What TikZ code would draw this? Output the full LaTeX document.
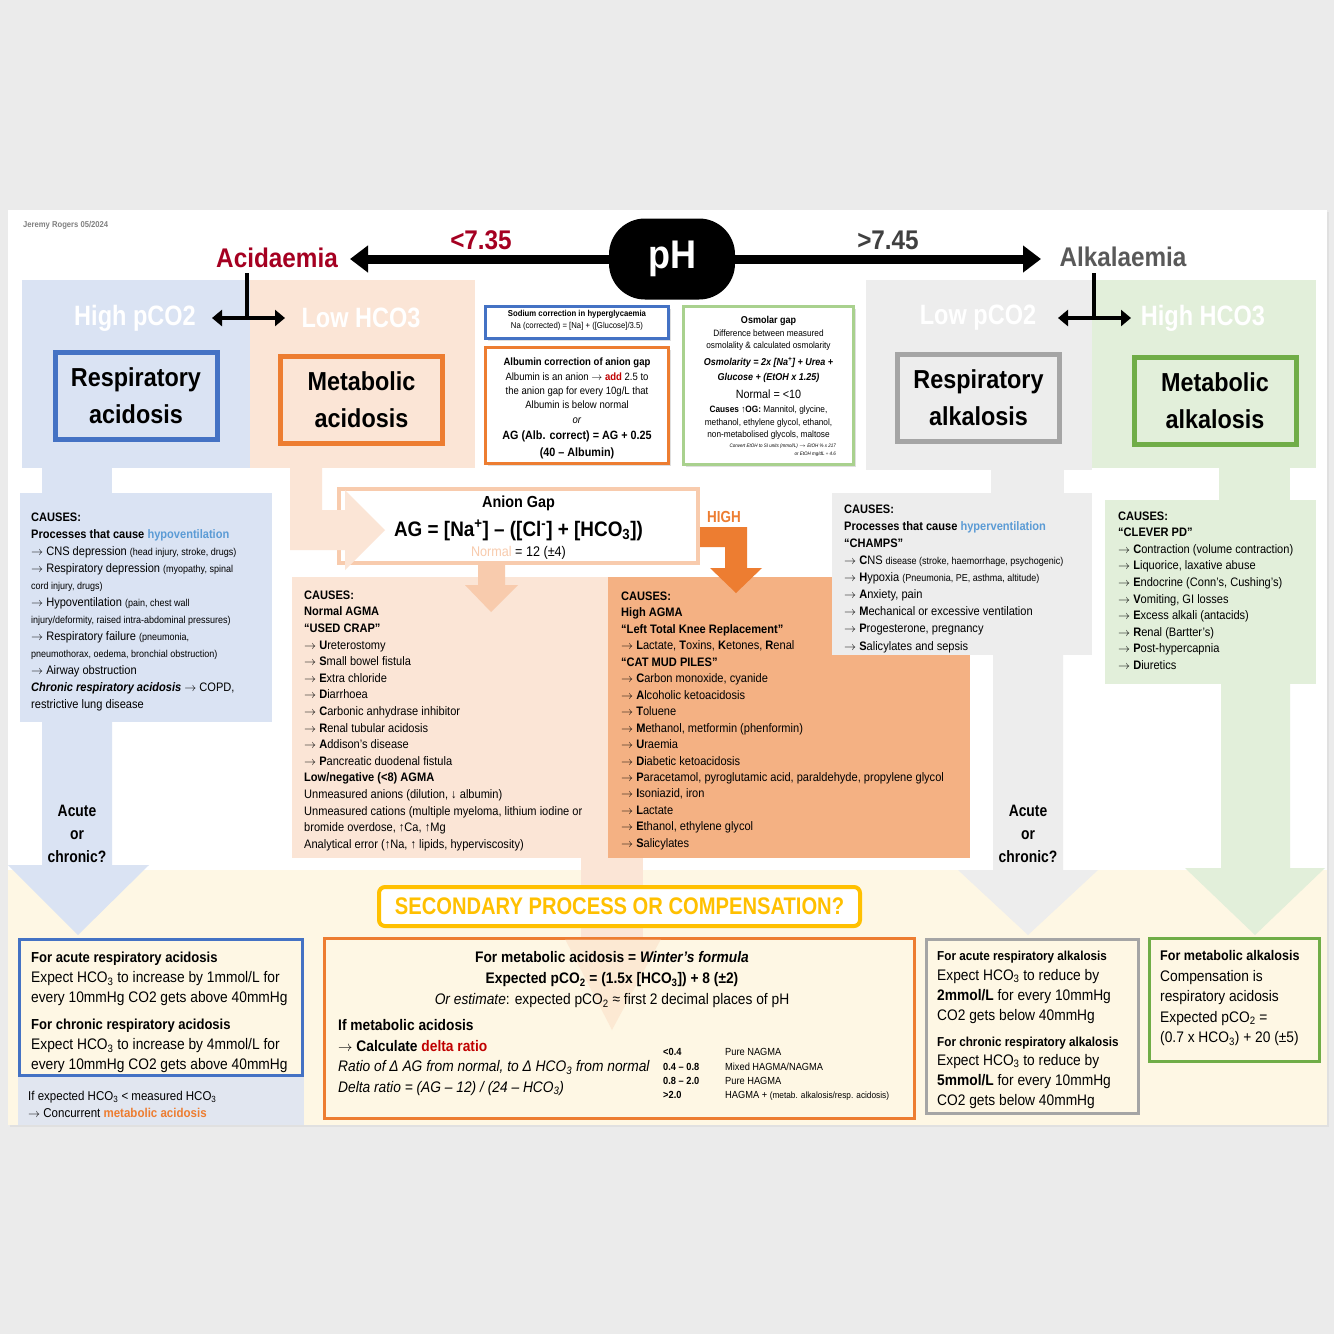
\documentclass[tikz,border=0pt]{standalone}
\usepackage{fontspec}
\setmainfont{Liberation Sans}[FakeStretch=0.9]
\newfontfamily\condfont{Liberation Sans}[FakeStretch=0.84]
\usetikzlibrary{arrows.meta, shadows}

\definecolor{bgray}{HTML}{EBEBEB}
\definecolor{acidred}{HTML}{A50021}
\definecolor{rblue}{HTML}{4472C4}
\definecolor{lblue}{HTML}{DAE3F3}
\definecolor{hypo}{HTML}{5B9BD5}
\definecolor{peach}{HTML}{FBE5D6}
\definecolor{peachdk}{HTML}{F8CBAD}
\definecolor{morange}{HTML}{ED7D31}
\definecolor{orangebox}{HTML}{F4B183}
\definecolor{lgray}{HTML}{EDEDED}
\definecolor{mgray}{HTML}{A5A5A5}
\definecolor{lgreen}{HTML}{E2EFDA}
\definecolor{mgreen}{HTML}{70AD47}
\definecolor{osmgreen}{HTML}{A9D18E}
\definecolor{cream}{HTML}{FEF7E4}
\definecolor{yell}{HTML}{FFC000}
\definecolor{alkgray}{HTML}{595959}
\definecolor{deltared}{HTML}{C00000}
\definecolor{lowblue}{HTML}{E1E6F0}

\newcommand{\sml}[1]{{\fontsize{10}{12}\selectfont #1}}
\newcommand{\rarr}{\ensuremath{\rightarrow}}

\begin{document}
\begin{tikzpicture}[
  x=1pt, y=-1pt,
  panelhead/.style={font=\condfont\bfseries\fontsize{28}{30}\selectfont, text=white, inner sep=0pt},
  typebox/.style={draw=#1, line width=5pt, minimum width=162pt, minimum height=87pt, align=center, inner sep=0pt, font=\bfseries\fontsize{26}{37}\selectfont},
  causes/.style={anchor=north west, align=left, inner sep=0pt, font=\fontsize{12.3}{16.6}\selectfont},
  infobox/.style={draw=#1, line width=3pt, fill=white, inner sep=0pt, drop shadow={opacity=0.25, shadow xshift=2pt, shadow yshift=-2pt}},
  comp/.style={draw=#1, line width=3pt, fill=cream, inner sep=0pt},
  comptext/.style={anchor=north west, align=left, inner sep=0pt, font=\fontsize{15.3}{20}\selectfont},
  phline/.style={line width=9pt, -{Triangle[length=18pt, width=26pt]}},
  forkline/.style={line width=4.5pt},
  dblarrow/.style={line width=4.5pt, {Triangle[length=10pt, width=16pt]}-{Triangle[length=10pt, width=16pt]}},
  question/.style={font=\condfont\bfseries\fontsize{16.5}{23}\selectfont, align=center, inner sep=0pt}
]

\fill[bgray] (0,0) rectangle (1334,1334);
\useasboundingbox (0,0) rectangle (1334,1334);
\fill[black!12] (10,212) rectangle (1329,1127);
\fill[white] (8,210) rectangle (1327,1125);
\fill[cream] (8,870) rectangle (1327,1125);

\node[font=\bfseries\fontsize{8.5}{10}\selectfont, text=gray, anchor=west, inner sep=0pt] (author) at (23,225) {Jeremy Rogers 05/2024};

\fill[lblue] (22,280) rectangle (250,468);
\fill[peach] (250,280) rectangle (475,468);
\fill[lgray] (866,280) rectangle (1092,470);
\fill[lgreen] (1092,280) rectangle (1316,468);

\fill[lblue] (42,468) rectangle (112,493);
\fill[lgray] (991,470) rectangle (1064,493);
\fill[lgreen] (1219,468) rectangle (1290,500);

\fill[lblue] (42,720) -- (112,720) -- (112,865) -- (149,865) -- (78,935) -- (8,865) -- (42,865) -- cycle;
\fill[lgray] (993,650) -- (1063,650) -- (1063,870) -- (1098,870) -- (1028,935) -- (958,870) -- (993,870) -- cycle;
\fill[lgreen] (1221,680) -- (1290,680) -- (1290,868) -- (1325,868) -- (1255,935) -- (1185,868) -- (1221,868) -- cycle;
\fill[peach] (581,858) rectangle (643,937);

\fill[lblue] (20,493) rectangle (272,722);
\fill[peach] (292,577) rectangle (608,858);
\fill[orangebox] (608,577) rectangle (970,858);
\fill[lgray] (832,493) rectangle (1092,655);
\fill[lgreen] (1105,500) rectangle (1316,684);

\node[draw=peachdk, line width=4pt, fill=white, minimum width=359, minimum height=74, inner sep=0pt] (agbox) at (518.5,526) {};
\fill[peach] (290,468) -- (322,468) -- (322,510) -- (345,510) -- (345,490) -- (385,530) -- (345,570) -- (345,550) -- (290,550) -- cycle;
\fill[peachdk] (478,565) -- (505,565) -- (505,585) -- (518,585) -- (491,612) -- (465,585) -- (478,585) -- cycle;
\fill[morange] (700,527) -- (747,527) -- (747,568) -- (762,568) -- (736,593) -- (710,568) -- (725,568) -- (725,547) -- (700,547) -- cycle;

\node[font=\fontsize{14}{20.5}\selectfont, align=center, inner sep=0pt] (agtext) at (518.5,528) {{\fontsize{16}{18}\selectfont\bfseries Anion Gap}\\[8pt]
{\fontsize{21}{22}\selectfont\bfseries AG = [Na\textsuperscript{+}] – ([Cl\textsuperscript{-}] + [HCO\textsubscript{3}])}\\
\textcolor{peachdk}{Normal} = 12 (±4)};
\node[font=\condfont\bfseries\fontsize{16}{18}\selectfont, text=morange, inner sep=0pt] (high) at (724,517) {HIGH};

\node[fill=black, rounded corners=36pt, minimum width=126, minimum height=81, text=white, font=\bfseries\fontsize{40}{44}\selectfont, inner sep=0pt] (ph) at (672,259) {pH};
\node[font=\bfseries\fontsize{27}{30}\selectfont, text=acidred, inner sep=0pt] (acid) at (277,258) {Acidaemia};
\node[font=\bfseries\fontsize{27}{30}\selectfont, text=alkgray, inner sep=0pt] (alk) at (1123,257) {Alkalaemia};
\node[font=\bfseries\fontsize{27}{30}\selectfont, text=acidred, inner sep=0pt] (lowph) at (481,240) {<7.35};
\node[font=\bfseries\fontsize{27}{30}\selectfont, text=black!75, inner sep=0pt] (highph) at (888,240) {>7.45};
\coordinate (acidtip) at (350,259);
\coordinate (alktip) at (1041,259);
\draw[phline] (ph.west) -- (acidtip);
\draw[phline] (ph.east) -- (alktip);

\coordinate (acidtop) at (247,273);
\coordinate (acidfork) at (247,318);
\coordinate (alktop) at (1094,273);
\coordinate (alkfork) at (1094,318);
\draw[forkline] (acidtop) -- (acidfork);
\draw[dblarrow] ([xshift=-35pt]acidfork) -- ([xshift=38pt]acidfork);
\draw[forkline] (alktop) -- (alkfork);
\draw[dblarrow] ([xshift=-36pt]alkfork) -- ([xshift=37pt]alkfork);

\node[panelhead] (hipco) at (135,318) {High pCO2};
\node[panelhead] (lohco) at (361,318) {Low HCO3};
\node[panelhead] (lopco) at (978,318) {Low pCO2};
\node[panelhead] (hihco) at (1203,318) {High HCO3};

\node[typebox=rblue, fill=lblue] (racid) at (136,396) {Respiratory\\acidosis};
\node[typebox=morange, fill=peach] (macid) at (361.5,399.5) {Metabolic\\acidosis};
\node[typebox=mgray, fill=lgray] (ralk) at (978.5,397.5) {Respiratory\\alkalosis};
\node[typebox=mgreen, fill=lgreen] (malk) at (1215,400.5) {Metabolic\\alkalosis};

\node[infobox=rblue, minimum width=183, minimum height=32] (nabox) at (577,322.5) {};
\node[font=\fontsize{8.6}{12}\selectfont, align=center, inner sep=0pt] (natext) at (577,320) {\textbf{Sodium correction in hyperglycaemia}\\Na (corrected) = [Na] + ([Glucose]/3.5)};

\node[infobox=morange, minimum width=183, minimum height=116] (albbox) at (577,405.5) {};
\node[font=\fontsize{10.6}{14.3}\selectfont, align=center, inner sep=0pt, anchor=north] (albtext) at (577,357.5) {\textbf{Albumin correction of anion gap}\\[0.5pt]
Albumin is an anion \rarr{} \textcolor{deltared}{\textbf{add}} 2.5 to\\
the anion gap for every 10g/L that\\
Albumin is below normal\\[0.5pt]
\textit{or}\\[1.5pt]
{\fontsize{12}{14}\selectfont\bfseries AG (Alb. correct) = AG + 0.25}\\[2.5pt]
{\fontsize{12}{14}\selectfont\bfseries (40 – Albumin)}};

\node[infobox=osmgreen, minimum width=170, minimum height=158] (osmbox) at (768.5,385.5) {};
\node[font=\fontsize{9.2}{12.5}\selectfont, align=center, inner sep=0pt, anchor=north] (osmtext) at (768.5,316) {{\fontsize{10}{12}\selectfont\bfseries Osmolar gap}\\[0.5pt]
Difference between measured\\[-0.5pt]
osmolality \& calculated osmolarity\\[4.5pt]
{\fontsize{10}{12}\selectfont\bfseries\itshape Osmolarity = 2x [Na\textsuperscript{+}] + Urea +}\\[2.5pt]
{\fontsize{10}{12}\selectfont\bfseries\itshape Glucose + (EtOH x 1.25)}\\[5.5pt]
{\fontsize{12}{12}\selectfont Normal = <10}\\[1.5pt]
\textbf{Causes ↑OG:} Mannitol, glycine,\\[0.5pt]
methanol, ethylene glycol, ethanol,\\[-0.5pt]
non-metabolised glycols, maltose};
\node[font=\itshape\fontsize{5}{8}\selectfont, align=right, inner sep=0pt, anchor=north east] (etoh) at (836,444) {Convert EtOH to SI units (mmol/L) \rarr{} EtOH \% x 217\\or EtOH mg/dL ÷ 4.6};

\node[causes, font=\fontsize{12.3}{17}\selectfont] (racidcauses) at (31,512.5) {\textbf{CAUSES:}\\
\textbf{Processes that cause \textcolor{hypo}{hypoventilation}}\\
\rarr{} CNS depression \sml{(head injury, stroke, drugs)}\\
\rarr{} Respiratory depression \sml{(myopathy, spinal}\\
\sml{cord injury, drugs)}\\
\rarr{} Hypoventilation \sml{(pain, chest wall}\\
\sml{injury/deformity, raised intra-abdominal pressures)}\\
\rarr{} Respiratory failure \sml{(pneumonia,}\\
\sml{pneumothorax, oedema, bronchial obstruction)}\\
\rarr{} Airway obstruction\\
\textbf{\textit{Chronic respiratory acidosis}} \rarr{} COPD,\\
restrictive lung disease};

\node[causes] (macidcauses) at (304,590.5) {\textbf{CAUSES:}\\
\textbf{Normal AGMA}\\
\textbf{“USED CRAP”}\\
\rarr{} \textbf{U}reterostomy\\
\rarr{} \textbf{S}mall bowel fistula\\
\rarr{} \textbf{E}xtra chloride\\
\rarr{} \textbf{D}iarrhoea\\
\rarr{} \textbf{C}arbonic anhydrase inhibitor\\
\rarr{} \textbf{R}enal tubular acidosis\\
\rarr{} \textbf{A}ddison’s disease\\
\rarr{} \textbf{P}ancreatic duodenal fistula\\
\textbf{Low/negative (<8) AGMA}\\
Unmeasured anions (dilution, ↓ albumin)\\
Unmeasured cations (multiple myeloma, lithium iodine or\\
bromide overdose, ↑Ca, ↑Mg\\
Analytical error (↑Na, ↑ lipids, hyperviscosity)};

\node[causes, font=\fontsize{12.3}{16.47}\selectfont] (hagmacauses) at (621,591.5) {\textbf{CAUSES:}\\
\textbf{High AGMA}\\
\textbf{“Left Total Knee Replacement”}\\
\rarr{} \textbf{L}actate, \textbf{T}oxins, \textbf{K}etones, \textbf{R}enal\\
\textbf{“CAT MUD PILES”}\\
\rarr{} \textbf{C}arbon monoxide, cyanide\\
\rarr{} \textbf{A}lcoholic ketoacidosis\\
\rarr{} \textbf{T}oluene\\
\rarr{} \textbf{M}ethanol, metformin (phenformin)\\
\rarr{} \textbf{U}raemia\\
\rarr{} \textbf{D}iabetic ketoacidosis\\
\rarr{} \textbf{P}aracetamol, pyroglutamic acid, paraldehyde, propylene glycol\\
\rarr{} \textbf{I}soniazid, iron\\
\rarr{} \textbf{L}actate\\
\rarr{} \textbf{E}thanol, ethylene glycol\\
\rarr{} \textbf{S}alicylates};

\node[causes, font=\fontsize{12.3}{17.1}\selectfont] (ralkcauses) at (844,504.5) {\textbf{CAUSES:}\\
\textbf{Processes that cause \textcolor{hypo}{hyperventilation}}\\
\textbf{“CHAMPS”}\\
\rarr{} \textbf{C}NS \sml{disease (stroke, haemorrhage, psychogenic)}\\
\rarr{} \textbf{H}ypoxia \sml{(Pneumonia, PE, asthma, altitude)}\\
\rarr{} \textbf{A}nxiety, pain\\
\rarr{} \textbf{M}echanical or excessive ventilation\\
\rarr{} \textbf{P}rogesterone, pregnancy\\
\rarr{} \textbf{S}alicylates and sepsis};

\node[causes, font=\fontsize{12.3}{16.55}\selectfont] (malkcauses) at (1118,511.5) {\textbf{CAUSES:}\\
\textbf{“CLEVER PD”}\\
\rarr{} \textbf{C}ontraction (volume contraction)\\
\rarr{} \textbf{L}iquorice, laxative abuse\\
\rarr{} \textbf{E}ndocrine (Conn’s, Cushing’s)\\
\rarr{} \textbf{V}omiting, GI losses\\
\rarr{} \textbf{E}xcess alkali (antacids)\\
\rarr{} \textbf{R}enal (Bartter’s)\\
\rarr{} \textbf{P}ost-hypercapnia\\
\rarr{} \textbf{D}iuretics};

\node[question] (acidq) at (77,834) {Acute\\or\\chronic?};
\node[question] (alkq) at (1028,834) {Acute\\or\\chronic?};

\node[draw=yell, line width=4pt, rounded corners=6pt, fill=white, minimum width=481, minimum height=39, inner sep=0pt, font=\condfont\bfseries\fontsize{24}{26}\selectfont, text=yell] (secondary) at (619.5,906.5) {SECONDARY PROCESS OR COMPENSATION?};

\node[comp=rblue, minimum width=283, minimum height=136] (racidbox) at (161,1007.5) {};
\node[comptext] (racidcomp) at (31,952) {{\fontsize{14.5}{20}\selectfont\bfseries For acute respiratory acidosis}\\
Expect HCO\textsubscript{3} to increase by 1mmol/L for\\
every 10mmHg CO2 gets above 40mmHg\\[7pt]
{\fontsize{14.5}{20}\selectfont\bfseries For chronic respiratory acidosis}\\
Expect HCO\textsubscript{3} to increase by 4mmol/L for\\
every 10mmHg CO2 gets above 40mmHg};
\fill[lowblue] (18,1077) rectangle (304,1125);
\node[causes, font=\fontsize{12.8}{17}\selectfont] (concurrent) at (28,1091) {If expected HCO\textsubscript{3} < measured HCO\textsubscript{3}\\
\rarr{} Concurrent \textcolor{morange}{\textbf{metabolic acidosis}}};

\node[comp=morange, minimum width=590, minimum height=180] (macidbox) at (619.5,1028.5) {};
\fill[peachdk, opacity=0.3] (565,939) -- (661,939) -- (612,1030) -- cycle;
\node[font=\fontsize{15.3}{21}\selectfont, align=center, inner sep=0pt, anchor=north] (winter) at (612,951.5) {\textbf{For metabolic acidosis = \textit{Winter’s formula}}\\
\textbf{Expected pCO\textsubscript{2} = (1.5x [HCO\textsubscript{3}]) + 8 (±2)}\\
\textit{Or estimate}: expected pCO\textsubscript{2} ≈ first 2 decimal places of pH};
\node[comptext, font=\fontsize{15.3}{20.7}\selectfont] (delta) at (338,1019) {\textbf{If metabolic acidosis}\\
\textbf{\rarr{} Calculate \textcolor{deltared}{delta ratio}}\\
\textit{Ratio of Δ AG from normal, to Δ HCO\textsubscript{3} from normal}\\
\textit{Delta ratio = (AG – 12) / (24 – HCO\textsubscript{3})}};
\node[font=\bfseries\fontsize{10.3}{14.3}\selectfont, anchor=north west, align=left, inner sep=0pt] (dtable) at (663,1048.5) {<0.4\\0.4 – 0.8\\0.8 – 2.0\\>2.0};
\node[font=\fontsize{10.3}{14.3}\selectfont, anchor=north west, align=left, inner sep=0pt] (dmeaning) at (725,1048.5) {Pure NAGMA\\Mixed HAGMA/NAGMA\\Pure HAGMA\\HAGMA + {\fontsize{9.2}{10}\selectfont (metab. alkalosis/resp. acidosis)}};

\node[comp=mgray, minimum width=212, minimum height=174] (ralkbox) at (1032.5,1026.5) {};
\node[comptext] (ralkcomp) at (937,950.5) {{\fontsize{13}{20}\selectfont\bfseries For acute respiratory alkalosis}\\
Expect HCO\textsubscript{3} to reduce by\\
\textbf{2mmol/L} for every 10mmHg\\
CO2 gets below 40mmHg\\[6pt]
{\fontsize{13}{20}\selectfont\bfseries For chronic respiratory alkalosis}\\[-1pt]
Expect HCO\textsubscript{3} to reduce by\\
\textbf{5mmol/L} for every 10mmHg\\
CO2 gets below 40mmHg};

\node[comp=mgreen, minimum width=170, minimum height=123] (malkbox) at (1234.5,1000) {};
\node[comptext, font=\fontsize{15.3}{20.5}\selectfont] (malkcomp) at (1160,950.5) {{\fontsize{14}{20}\selectfont\bfseries For metabolic alkalosis}\\
Compensation is\\
respiratory acidosis\\
Expected pCO\textsubscript{2} =\\
(0.7 x HCO\textsubscript{3}) + 20 (±5)};

\end{tikzpicture}
\end{document}
